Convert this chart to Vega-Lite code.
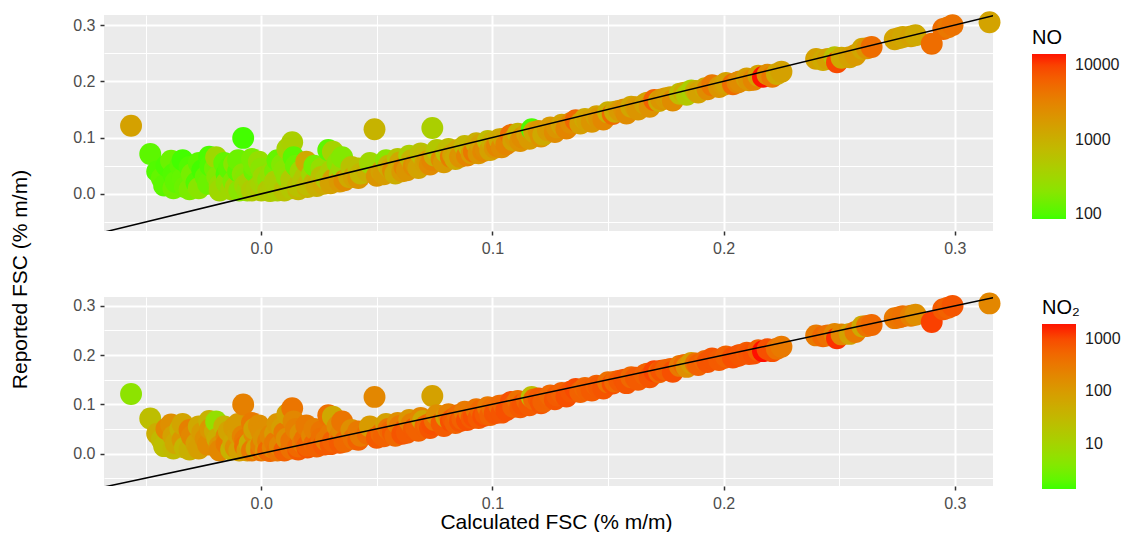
{
 "$schema": "https://vega.github.io/schema/vega-lite/v6.json",
 "background": "white",
 "padding": {"left": 9, "top": 11, "right": 0, "bottom": 0},
 "config": {
  "font": "Liberation Sans",
  "view": {"fill": "#EBEBEB", "stroke": null},
  "axis": {"domain": false, "labelFontSize": 16, "labelColor": "#4D4D4D", "tickColor": "#333333", "tickSize": 4, "tickWidth": 1.5, "labelPadding": 5, "gridColor": "white", "titleFontSize": 21, "titleFontWeight": "normal", "titleColor": "black"},
  "legend": {"gradientLength": 165, "gradientThickness": 34, "labelFontSize": 16, "titleFontSize": 20, "titleFontWeight": "normal", "gradientLabelOffset": 9, "titlePadding": 6, "labelColor": "#1A1A1A", "titleColor": "black", "padding": 0, "gradientStrokeWidth": 0}
 },
 "datasets": {
  "diag": [{"c": -0.1, "r": -0.1}, {"c": 0.35, "r": 0.35}],
  "pts": [
   {"c": -0.0563, "r": 0.121, "NO": 1500, "NO2": 5},
   {"c": -0.048, "r": 0.071, "NO": 110, "NO2": 25},
   {"c": -0.045, "r": 0.040, "NO": 100, "NO2": 50},
   {"c": -0.043, "r": 0.028, "NO": 120, "NO2": 30},
   {"c": -0.042, "r": 0.015, "NO": 110, "NO2": 25},
   {"c": -0.041, "r": 0.050, "NO": 95, "NO2": 200},
   {"c": -0.039, "r": 0.059, "NO": 130, "NO2": 150},
   {"c": -0.038, "r": 0.035, "NO": 100, "NO2": 80},
   {"c": -0.038, "r": 0.010, "NO": 140, "NO2": 30},
   {"c": -0.037, "r": 0.021, "NO": 115, "NO2": 60},
   {"c": -0.035, "r": 0.050, "NO": 110, "NO2": 40},
   {"c": -0.034, "r": 0.028, "NO": 120, "NO2": 120},
   {"c": -0.034, "r": 0.060, "NO": 90, "NO2": 70},
   {"c": -0.033, "r": 0.012, "NO": 130, "NO2": 35},
   {"c": -0.031, "r": 0.008, "NO": 160, "NO2": 45},
   {"c": -0.031, "r": 0.048, "NO": 100, "NO2": 250},
   {"c": -0.030, "r": 0.035, "NO": 150, "NO2": 200},
   {"c": -0.028, "r": 0.020, "NO": 100, "NO2": 80},
   {"c": -0.027, "r": 0.055, "NO": 110, "NO2": 60},
   {"c": -0.027, "r": 0.010, "NO": 200, "NO2": 90},
   {"c": -0.0255, "r": 0.042, "NO": 90, "NO2": 100},
   {"c": -0.024, "r": 0.030, "NO": 120, "NO2": 150},
   {"c": -0.023, "r": 0.018, "NO": 130, "NO2": 180},
   {"c": -0.0225, "r": 0.066, "NO": 95, "NO2": 40},
   {"c": -0.022, "r": 0.050, "NO": 100, "NO2": 120},
   {"c": -0.020, "r": 0.045, "NO": 140, "NO2": 60},
   {"c": -0.0195, "r": 0.065, "NO": 300, "NO2": 6},
   {"c": -0.019, "r": 0.030, "NO": 180, "NO2": 50},
   {"c": -0.018, "r": 0.015, "NO": 250, "NO2": 120},
   {"c": -0.018, "r": 0.006, "NO": 300, "NO2": 200},
   {"c": -0.016, "r": 0.055, "NO": 120, "NO2": 35},
   {"c": -0.015, "r": 0.035, "NO": 100, "NO2": 200},
   {"c": -0.015, "r": 0.020, "NO": 220, "NO2": 300},
   {"c": -0.014, "r": 0.045, "NO": 110, "NO2": 70},
   {"c": -0.013, "r": 0.008, "NO": 300, "NO2": 40},
   {"c": -0.012, "r": 0.022, "NO": 160, "NO2": 60},
   {"c": -0.0117, "r": 0.053, "NO": 200, "NO2": 100},
   {"c": -0.011, "r": 0.012, "NO": 350, "NO2": 150},
   {"c": -0.010, "r": 0.040, "NO": 110, "NO2": 90},
   {"c": -0.010, "r": 0.060, "NO": 130, "NO2": 100},
   {"c": -0.0095, "r": 0.006, "NO": 200, "NO2": 80},
   {"c": -0.008, "r": 0.035, "NO": 200, "NO2": 220},
   {"c": -0.0078, "r": 0.0995, "NO": 90, "NO2": 250},
   {"c": -0.007, "r": 0.028, "NO": 180, "NO2": 300},
   {"c": -0.007, "r": 0.015, "NO": 300, "NO2": 400},
   {"c": -0.006, "r": 0.006, "NO": 250, "NO2": 100},
   {"c": -0.005, "r": 0.021, "NO": 350, "NO2": 50},
   {"c": -0.004, "r": 0.062, "NO": 150, "NO2": 300},
   {"c": -0.004, "r": 0.006, "NO": 450, "NO2": 300},
   {"c": -0.003, "r": 0.040, "NO": 130, "NO2": 180},
   {"c": -0.003, "r": 0.050, "NO": 150, "NO2": 80},
   {"c": -0.002, "r": 0.010, "NO": 400, "NO2": 70},
   {"c": -0.001, "r": 0.057, "NO": 250, "NO2": 150},
   {"c": 0.000, "r": 0.006, "NO": 500, "NO2": 400},
   {"c": 0.000, "r": 0.018, "NO": 350, "NO2": 250},
   {"c": 0.000, "r": 0.045, "NO": 200, "NO2": 150},
   {"c": 0.001, "r": 0.030, "NO": 300, "NO2": 130},
   {"c": 0.002, "r": 0.007, "NO": 300, "NO2": 120},
   {"c": 0.003, "r": 0.025, "NO": 200, "NO2": 250},
   {"c": 0.003, "r": 0.006, "NO": 500, "NO2": 500},
   {"c": 0.004, "r": 0.036, "NO": 250, "NO2": 200},
   {"c": 0.004, "r": 0.005, "NO": 450, "NO2": 500},
   {"c": 0.005, "r": 0.012, "NO": 450, "NO2": 220},
   {"c": 0.006, "r": 0.040, "NO": 150, "NO2": 100},
   {"c": 0.006, "r": 0.022, "NO": 400, "NO2": 300},
   {"c": 0.007, "r": 0.006, "NO": 400, "NO2": 350},
   {"c": 0.007, "r": 0.060, "NO": 120, "NO2": 120},
   {"c": 0.008, "r": 0.016, "NO": 400, "NO2": 200},
   {"c": 0.009, "r": 0.052, "NO": 180, "NO2": 90},
   {"c": 0.010, "r": 0.006, "NO": 600, "NO2": 600},
   {"c": 0.010, "r": 0.042, "NO": 200, "NO2": 300},
   {"c": 0.011, "r": 0.030, "NO": 220, "NO2": 150},
   {"c": 0.0113, "r": 0.080, "NO": 350, "NO2": 80},
   {"c": 0.013, "r": 0.010, "NO": 500, "NO2": 400},
   {"c": 0.013, "r": 0.025, "NO": 450, "NO2": 350},
   {"c": 0.0134, "r": 0.092, "NO": 400, "NO2": 350},
   {"c": 0.014, "r": 0.065, "NO": 110, "NO2": 200},
   {"c": 0.015, "r": 0.050, "NO": 130, "NO2": 250},
   {"c": 0.016, "r": 0.008, "NO": 800, "NO2": 700},
   {"c": 0.016, "r": 0.014, "NO": 600, "NO2": 500},
   {"c": 0.017, "r": 0.040, "NO": 300, "NO2": 150},
   {"c": 0.018, "r": 0.022, "NO": 500, "NO2": 300},
   {"c": 0.019, "r": 0.030, "NO": 500, "NO2": 400},
   {"c": 0.0195, "r": 0.057, "NO": 1200, "NO2": 300},
   {"c": 0.020, "r": 0.012, "NO": 900, "NO2": 800},
   {"c": 0.020, "r": 0.016, "NO": 700, "NO2": 600},
   {"c": 0.022, "r": 0.035, "NO": 300, "NO2": 200},
   {"c": 0.023, "r": 0.020, "NO": 800, "NO2": 500},
   {"c": 0.023, "r": 0.050, "NO": 150, "NO2": 250},
   {"c": 0.024, "r": 0.014, "NO": 1000, "NO2": 600},
   {"c": 0.026, "r": 0.045, "NO": 250, "NO2": 350},
   {"c": 0.026, "r": 0.030, "NO": 600, "NO2": 400},
   {"c": 0.027, "r": 0.018, "NO": 1200, "NO2": 700},
   {"c": 0.028, "r": 0.027, "NO": 500, "NO2": 300},
   {"c": 0.029, "r": 0.078, "NO": 110, "NO2": 400},
   {"c": 0.030, "r": 0.019, "NO": 1500, "NO2": 700},
   {"c": 0.030, "r": 0.040, "NO": 400, "NO2": 300},
   {"c": 0.031, "r": 0.075, "NO": 350, "NO2": 60},
   {"c": 0.031, "r": 0.025, "NO": 1500, "NO2": 600},
   {"c": 0.033, "r": 0.055, "NO": 200, "NO2": 150},
   {"c": 0.034, "r": 0.034, "NO": 400, "NO2": 250},
   {"c": 0.034, "r": 0.022, "NO": 1800, "NO2": 700},
   {"c": 0.035, "r": 0.045, "NO": 300, "NO2": 200},
   {"c": 0.035, "r": 0.065, "NO": 180, "NO2": 350},
   {"c": 0.036, "r": 0.024, "NO": 2500, "NO2": 500},
   {"c": 0.038, "r": 0.030, "NO": 1200, "NO2": 500},
   {"c": 0.039, "r": 0.048, "NO": 600, "NO2": 150},
   {"c": 0.040, "r": 0.030, "NO": 1500, "NO2": 400},
   {"c": 0.042, "r": 0.045, "NO": 600, "NO2": 300},
   {"c": 0.042, "r": 0.028, "NO": 2000, "NO2": 600},
   {"c": 0.043, "r": 0.036, "NO": 800, "NO2": 300},
   {"c": 0.046, "r": 0.040, "NO": 1000, "NO2": 450},
   {"c": 0.047, "r": 0.055, "NO": 300, "NO2": 100},
   {"c": 0.049, "r": 0.115, "NO": 900, "NO2": 200},
   {"c": 0.074, "r": 0.117, "NO": 400, "NO2": 80},
   {"c": 0.050, "r": 0.032, "NO": 2000, "NO2": 700},
   {"c": 0.052, "r": 0.040, "NO": 1500, "NO2": 500},
   {"c": 0.053, "r": 0.035, "NO": 1700, "NO2": 600},
   {"c": 0.054, "r": 0.060, "NO": 200, "NO2": 80},
   {"c": 0.055, "r": 0.050, "NO": 800, "NO2": 350},
   {"c": 0.056, "r": 0.045, "NO": 1200, "NO2": 500},
   {"c": 0.057, "r": 0.042, "NO": 2500, "NO2": 700},
   {"c": 0.058, "r": 0.036, "NO": 1100, "NO2": 500},
   {"c": 0.059, "r": 0.062, "NO": 500, "NO2": 150},
   {"c": 0.060, "r": 0.056, "NO": 1200, "NO2": 300},
   {"c": 0.061, "r": 0.040, "NO": 1800, "NO2": 800},
   {"c": 0.062, "r": 0.048, "NO": 3000, "NO2": 800},
   {"c": 0.063, "r": 0.042, "NO": 2000, "NO2": 700},
   {"c": 0.064, "r": 0.068, "NO": 400, "NO2": 120},
   {"c": 0.065, "r": 0.060, "NO": 900, "NO2": 250},
   {"c": 0.066, "r": 0.050, "NO": 2500, "NO2": 700},
   {"c": 0.067, "r": 0.052, "NO": 2000, "NO2": 600},
   {"c": 0.068, "r": 0.046, "NO": 1400, "NO2": 600},
   {"c": 0.069, "r": 0.072, "NO": 600, "NO2": 200},
   {"c": 0.070, "r": 0.066, "NO": 700, "NO2": 60},
   {"c": 0.071, "r": 0.055, "NO": 1500, "NO2": 600},
   {"c": 0.072, "r": 0.058, "NO": 1800, "NO2": 500},
   {"c": 0.073, "r": 0.052, "NO": 2600, "NO2": 800},
   {"c": 0.074, "r": 0.060, "NO": 3000, "NO2": 900},
   {"c": 0.075, "r": 0.068, "NO": 1000, "NO2": 400},
   {"c": 0.076, "r": 0.078, "NO": 500, "NO2": 150},
   {"c": 0.078, "r": 0.062, "NO": 2500, "NO2": 700},
   {"c": 0.079, "r": 0.056, "NO": 1800, "NO2": 700},
   {"c": 0.080, "r": 0.074, "NO": 600, "NO2": 80},
   {"c": 0.081, "r": 0.080, "NO": 700, "NO2": 250},
   {"c": 0.082, "r": 0.066, "NO": 3500, "NO2": 900},
   {"c": 0.083, "r": 0.070, "NO": 1400, "NO2": 700},
   {"c": 0.084, "r": 0.062, "NO": 1200, "NO2": 600},
   {"c": 0.085, "r": 0.078, "NO": 1200, "NO2": 450},
   {"c": 0.086, "r": 0.066, "NO": 2200, "NO2": 800},
   {"c": 0.087, "r": 0.070, "NO": 2000, "NO2": 600},
   {"c": 0.088, "r": 0.085, "NO": 800, "NO2": 300},
   {"c": 0.089, "r": 0.068, "NO": 3000, "NO2": 900},
   {"c": 0.090, "r": 0.083, "NO": 800, "NO2": 300},
   {"c": 0.091, "r": 0.072, "NO": 1800, "NO2": 700},
   {"c": 0.092, "r": 0.075, "NO": 4000, "NO2": 900},
   {"c": 0.093, "r": 0.090, "NO": 1000, "NO2": 350},
   {"c": 0.094, "r": 0.072, "NO": 2000, "NO2": 700},
   {"c": 0.095, "r": 0.088, "NO": 1500, "NO2": 500},
   {"c": 0.096, "r": 0.076, "NO": 2800, "NO2": 900},
   {"c": 0.097, "r": 0.080, "NO": 2500, "NO2": 700},
   {"c": 0.098, "r": 0.094, "NO": 700, "NO2": 300},
   {"c": 0.099, "r": 0.078, "NO": 1500, "NO2": 600},
   {"c": 0.100, "r": 0.092, "NO": 1000, "NO2": 400},
   {"c": 0.101, "r": 0.082, "NO": 2000, "NO2": 800},
   {"c": 0.102, "r": 0.085, "NO": 3000, "NO2": 800},
   {"c": 0.103, "r": 0.097, "NO": 1200, "NO2": 450},
   {"c": 0.104, "r": 0.083, "NO": 2500, "NO2": 800},
   {"c": 0.105, "r": 0.098, "NO": 1300, "NO2": 500},
   {"c": 0.106, "r": 0.088, "NO": 3000, "NO2": 900},
   {"c": 0.108, "r": 0.105, "NO": 5000, "NO2": 900},
   {"c": 0.109, "r": 0.095, "NO": 1500, "NO2": 600},
   {"c": 0.110, "r": 0.100, "NO": 1800, "NO2": 600},
   {"c": 0.111, "r": 0.107, "NO": 900, "NO2": 400},
   {"c": 0.112, "r": 0.094, "NO": 2200, "NO2": 700},
   {"c": 0.113, "r": 0.100, "NO": 2500, "NO2": 800},
   {"c": 0.115, "r": 0.107, "NO": 1500, "NO2": 500},
   {"c": 0.116, "r": 0.098, "NO": 1800, "NO2": 700},
   {"c": 0.117, "r": 0.115, "NO": 95, "NO2": 25},
   {"c": 0.118, "r": 0.110, "NO": 1300, "NO2": 500},
   {"c": 0.120, "r": 0.112, "NO": 2000, "NO2": 700},
   {"c": 0.121, "r": 0.102, "NO": 2200, "NO2": 800},
   {"c": 0.122, "r": 0.105, "NO": 1200, "NO2": 600},
   {"c": 0.124, "r": 0.113, "NO": 1700, "NO2": 600},
   {"c": 0.125, "r": 0.118, "NO": 1800, "NO2": 500},
   {"c": 0.127, "r": 0.110, "NO": 2500, "NO2": 800},
   {"c": 0.128, "r": 0.118, "NO": 2000, "NO2": 700},
   {"c": 0.130, "r": 0.123, "NO": 1400, "NO2": 600},
   {"c": 0.131, "r": 0.120, "NO": 1600, "NO2": 600},
   {"c": 0.132, "r": 0.116, "NO": 3000, "NO2": 900},
   {"c": 0.134, "r": 0.126, "NO": 2500, "NO2": 800},
   {"c": 0.136, "r": 0.131, "NO": 5500, "NO2": 1000},
   {"c": 0.138, "r": 0.125, "NO": 1600, "NO2": 600},
   {"c": 0.140, "r": 0.133, "NO": 1200, "NO2": 500},
   {"c": 0.141, "r": 0.130, "NO": 1500, "NO2": 600},
   {"c": 0.143, "r": 0.128, "NO": 2000, "NO2": 700},
   {"c": 0.145, "r": 0.138, "NO": 1500, "NO2": 600},
   {"c": 0.146, "r": 0.135, "NO": 2000, "NO2": 700},
   {"c": 0.148, "r": 0.132, "NO": 2800, "NO2": 800},
   {"c": 0.150, "r": 0.145, "NO": 1000, "NO2": 400},
   {"c": 0.152, "r": 0.142, "NO": 5000, "NO2": 900},
   {"c": 0.153, "r": 0.146, "NO": 1200, "NO2": 500},
   {"c": 0.155, "r": 0.148, "NO": 1800, "NO2": 700},
   {"c": 0.157, "r": 0.150, "NO": 2200, "NO2": 800},
   {"c": 0.158, "r": 0.143, "NO": 2500, "NO2": 800},
   {"c": 0.160, "r": 0.155, "NO": 1300, "NO2": 500},
   {"c": 0.162, "r": 0.154, "NO": 1800, "NO2": 700},
   {"c": 0.163, "r": 0.150, "NO": 2000, "NO2": 700},
   {"c": 0.166, "r": 0.160, "NO": 1500, "NO2": 600},
   {"c": 0.167, "r": 0.162, "NO": 1400, "NO2": 600},
   {"c": 0.168, "r": 0.155, "NO": 2200, "NO2": 800},
   {"c": 0.170, "r": 0.167, "NO": 6000, "NO2": 1100},
   {"c": 0.172, "r": 0.165, "NO": 1200, "NO2": 500},
   {"c": 0.173, "r": 0.168, "NO": 2000, "NO2": 800},
   {"c": 0.175, "r": 0.170, "NO": 1800, "NO2": 600},
   {"c": 0.177, "r": 0.172, "NO": 1500, "NO2": 600},
   {"c": 0.178, "r": 0.166, "NO": 2500, "NO2": 900},
   {"c": 0.181, "r": 0.178, "NO": 700, "NO2": 300},
   {"c": 0.183, "r": 0.180, "NO": 1200, "NO2": 500},
   {"c": 0.184, "r": 0.176, "NO": 500, "NO2": 150},
   {"c": 0.186, "r": 0.184, "NO": 400, "NO2": 100},
   {"c": 0.188, "r": 0.183, "NO": 1000, "NO2": 400},
   {"c": 0.189, "r": 0.180, "NO": 1500, "NO2": 600},
   {"c": 0.192, "r": 0.188, "NO": 1200, "NO2": 500},
   {"c": 0.193, "r": 0.186, "NO": 2500, "NO2": 800},
   {"c": 0.195, "r": 0.193, "NO": 4000, "NO2": 800},
   {"c": 0.198, "r": 0.190, "NO": 2000, "NO2": 700},
   {"c": 0.200, "r": 0.194, "NO": 1800, "NO2": 700},
   {"c": 0.201, "r": 0.197, "NO": 1500, "NO2": 600},
   {"c": 0.204, "r": 0.195, "NO": 5000, "NO2": 900},
   {"c": 0.206, "r": 0.198, "NO": 3000, "NO2": 900},
   {"c": 0.207, "r": 0.200, "NO": 2500, "NO2": 800},
   {"c": 0.210, "r": 0.205, "NO": 1600, "NO2": 700},
   {"c": 0.211, "r": 0.202, "NO": 2000, "NO2": 800},
   {"c": 0.213, "r": 0.203, "NO": 3000, "NO2": 900},
   {"c": 0.215, "r": 0.210, "NO": 1500, "NO2": 600},
   {"c": 0.217, "r": 0.208, "NO": 14000, "NO2": 2000},
   {"c": 0.219, "r": 0.212, "NO": 2500, "NO2": 900},
   {"c": 0.221, "r": 0.208, "NO": 4000, "NO2": 900},
   {"c": 0.223, "r": 0.213, "NO": 1200, "NO2": 400},
   {"c": 0.225, "r": 0.217, "NO": 1500, "NO2": 300},
   {"c": 0.240, "r": 0.240, "NO": 1500, "NO2": 300},
   {"c": 0.243, "r": 0.238, "NO": 1200, "NO2": 500},
   {"c": 0.245, "r": 0.240, "NO": 1500, "NO2": 400},
   {"c": 0.248, "r": 0.243, "NO": 600, "NO2": 200},
   {"c": 0.249, "r": 0.234, "NO": 9000, "NO2": 1500},
   {"c": 0.251, "r": 0.242, "NO": 1200, "NO2": 200},
   {"c": 0.2545, "r": 0.243, "NO": 1500, "NO2": 80},
   {"c": 0.257, "r": 0.247, "NO": 1800, "NO2": 300},
   {"c": 0.260, "r": 0.258, "NO": 1300, "NO2": 60},
   {"c": 0.262, "r": 0.259, "NO": 2000, "NO2": 350},
   {"c": 0.264, "r": 0.261, "NO": 5000, "NO2": 500},
   {"c": 0.274, "r": 0.275, "NO": 1400, "NO2": 300},
   {"c": 0.276, "r": 0.277, "NO": 1500, "NO2": 350},
   {"c": 0.2775, "r": 0.279, "NO": 1300, "NO2": 400},
   {"c": 0.281, "r": 0.280, "NO": 1500, "NO2": 250},
   {"c": 0.283, "r": 0.282, "NO": 1200, "NO2": 150},
   {"c": 0.290, "r": 0.267, "NO": 5000, "NO2": 1200},
   {"c": 0.295, "r": 0.293, "NO": 5000, "NO2": 700},
   {"c": 0.297, "r": 0.296, "NO": 4000, "NO2": 600},
   {"c": 0.299, "r": 0.300, "NO": 4500, "NO2": 800},
   {"c": 0.315, "r": 0.305, "NO": 1400, "NO2": 200}
  ]
 },
 "bounds": "flush",
 "spacing": 66,
 "resolve": {"scale": {"color": "independent"}},
 "vconcat": [
  {
   "width": 889,
   "height": 216,
   "encoding": {
    "x": {"field": "c", "type": "quantitative", "scale": {"domain": [-0.068, 0.3165], "nice": false, "zero": false},
     "axis": {"title": null, "values": [-0.05, 0, 0.05, 0.1, 0.15, 0.2, 0.25, 0.3], "labelExpr": "abs(datum.value*20) % 2 > 0.5 ? '' : format(datum.value, '.1f')", "gridWidth": {"condition": {"test": "abs(datum.value*20) % 2 > 0.5", "value": 1}, "value": 2}, "tickOpacity": {"condition": {"test": "abs(datum.value*20) % 2 > 0.5", "value": 0}, "value": 1}}},
    "y": {"field": "r", "type": "quantitative", "scale": {"domain": [-0.066, 0.318], "nice": false, "zero": false},
     "axis": {"title": "Reported FSC (% m/m)", "titleY": 264, "titlePadding": 42, "values": [-0.05, 0, 0.05, 0.1, 0.15, 0.2, 0.25, 0.3], "labelExpr": "abs(datum.value*20) % 2 > 0.5 ? '' : format(datum.value, '.1f')", "gridWidth": {"condition": {"test": "abs(datum.value*20) % 2 > 0.5", "value": 1}, "value": 2}, "tickOpacity": {"condition": {"test": "abs(datum.value*20) % 2 > 0.5", "value": 0}, "value": 1}}}
   },
   "layer": [
    {"data": {"name": "pts"}, "mark": {"type": "circle", "size": 480, "opacity": 1},
     "encoding": {"color": {"field": "NO", "type": "quantitative", "scale": {"type": "log", "domain": [86, 14000], "range": ["#3CFF00", "#FF1400"], "interpolate": "lab"},
      "legend": {"title": "NO", "orient": "none", "legendX": 928, "legendY": 13, "labelOffset": 9, "values": [100, 1000, 10000], "format": "d"}}}},
    {"data": {"name": "diag"}, "mark": {"type": "line", "color": "black", "strokeWidth": 1.5, "clip": true}, "encoding": {}}
   ]
  },
  {
   "width": 889,
   "height": 189,
   "encoding": {
    "x": {"field": "c", "type": "quantitative", "scale": {"domain": [-0.068, 0.3165], "nice": false, "zero": false},
     "axis": {"title": "Calculated FSC (% m/m)", "titleX": 452, "titlePadding": 0, "values": [-0.05, 0, 0.05, 0.1, 0.15, 0.2, 0.25, 0.3], "labelExpr": "abs(datum.value*20) % 2 > 0.5 ? '' : format(datum.value, '.1f')", "gridWidth": {"condition": {"test": "abs(datum.value*20) % 2 > 0.5", "value": 1}, "value": 2}, "tickOpacity": {"condition": {"test": "abs(datum.value*20) % 2 > 0.5", "value": 0}, "value": 1}}},
    "y": {"field": "r", "type": "quantitative", "scale": {"domain": [-0.066, 0.318], "nice": false, "zero": false},
     "axis": {"title": null, "values": [-0.05, 0, 0.05, 0.1, 0.15, 0.2, 0.25, 0.3], "labelExpr": "abs(datum.value*20) % 2 > 0.5 ? '' : format(datum.value, '.1f')", "gridWidth": {"condition": {"test": "abs(datum.value*20) % 2 > 0.5", "value": 1}, "value": 2}, "tickOpacity": {"condition": {"test": "abs(datum.value*20) % 2 > 0.5", "value": 0}, "value": 1}}}
   },
   "layer": [
    {"data": {"name": "pts"}, "mark": {"type": "circle", "size": 480, "opacity": 1},
     "encoding": {"color": {"field": "NO2", "type": "quantitative", "scale": {"type": "log", "domain": [1.36, 1950], "range": ["#3CFF00", "#FF1400"], "interpolate": "lab"},
      "legend": {"title": "NO₂", "orient": "none", "legendX": 938, "legendY": 1, "labelOffset": 9, "values": [10, 100, 1000], "format": "d"}}}},
    {"data": {"name": "diag"}, "mark": {"type": "line", "color": "black", "strokeWidth": 1.5, "clip": true}, "encoding": {}}
   ]
  }
 ]
}
